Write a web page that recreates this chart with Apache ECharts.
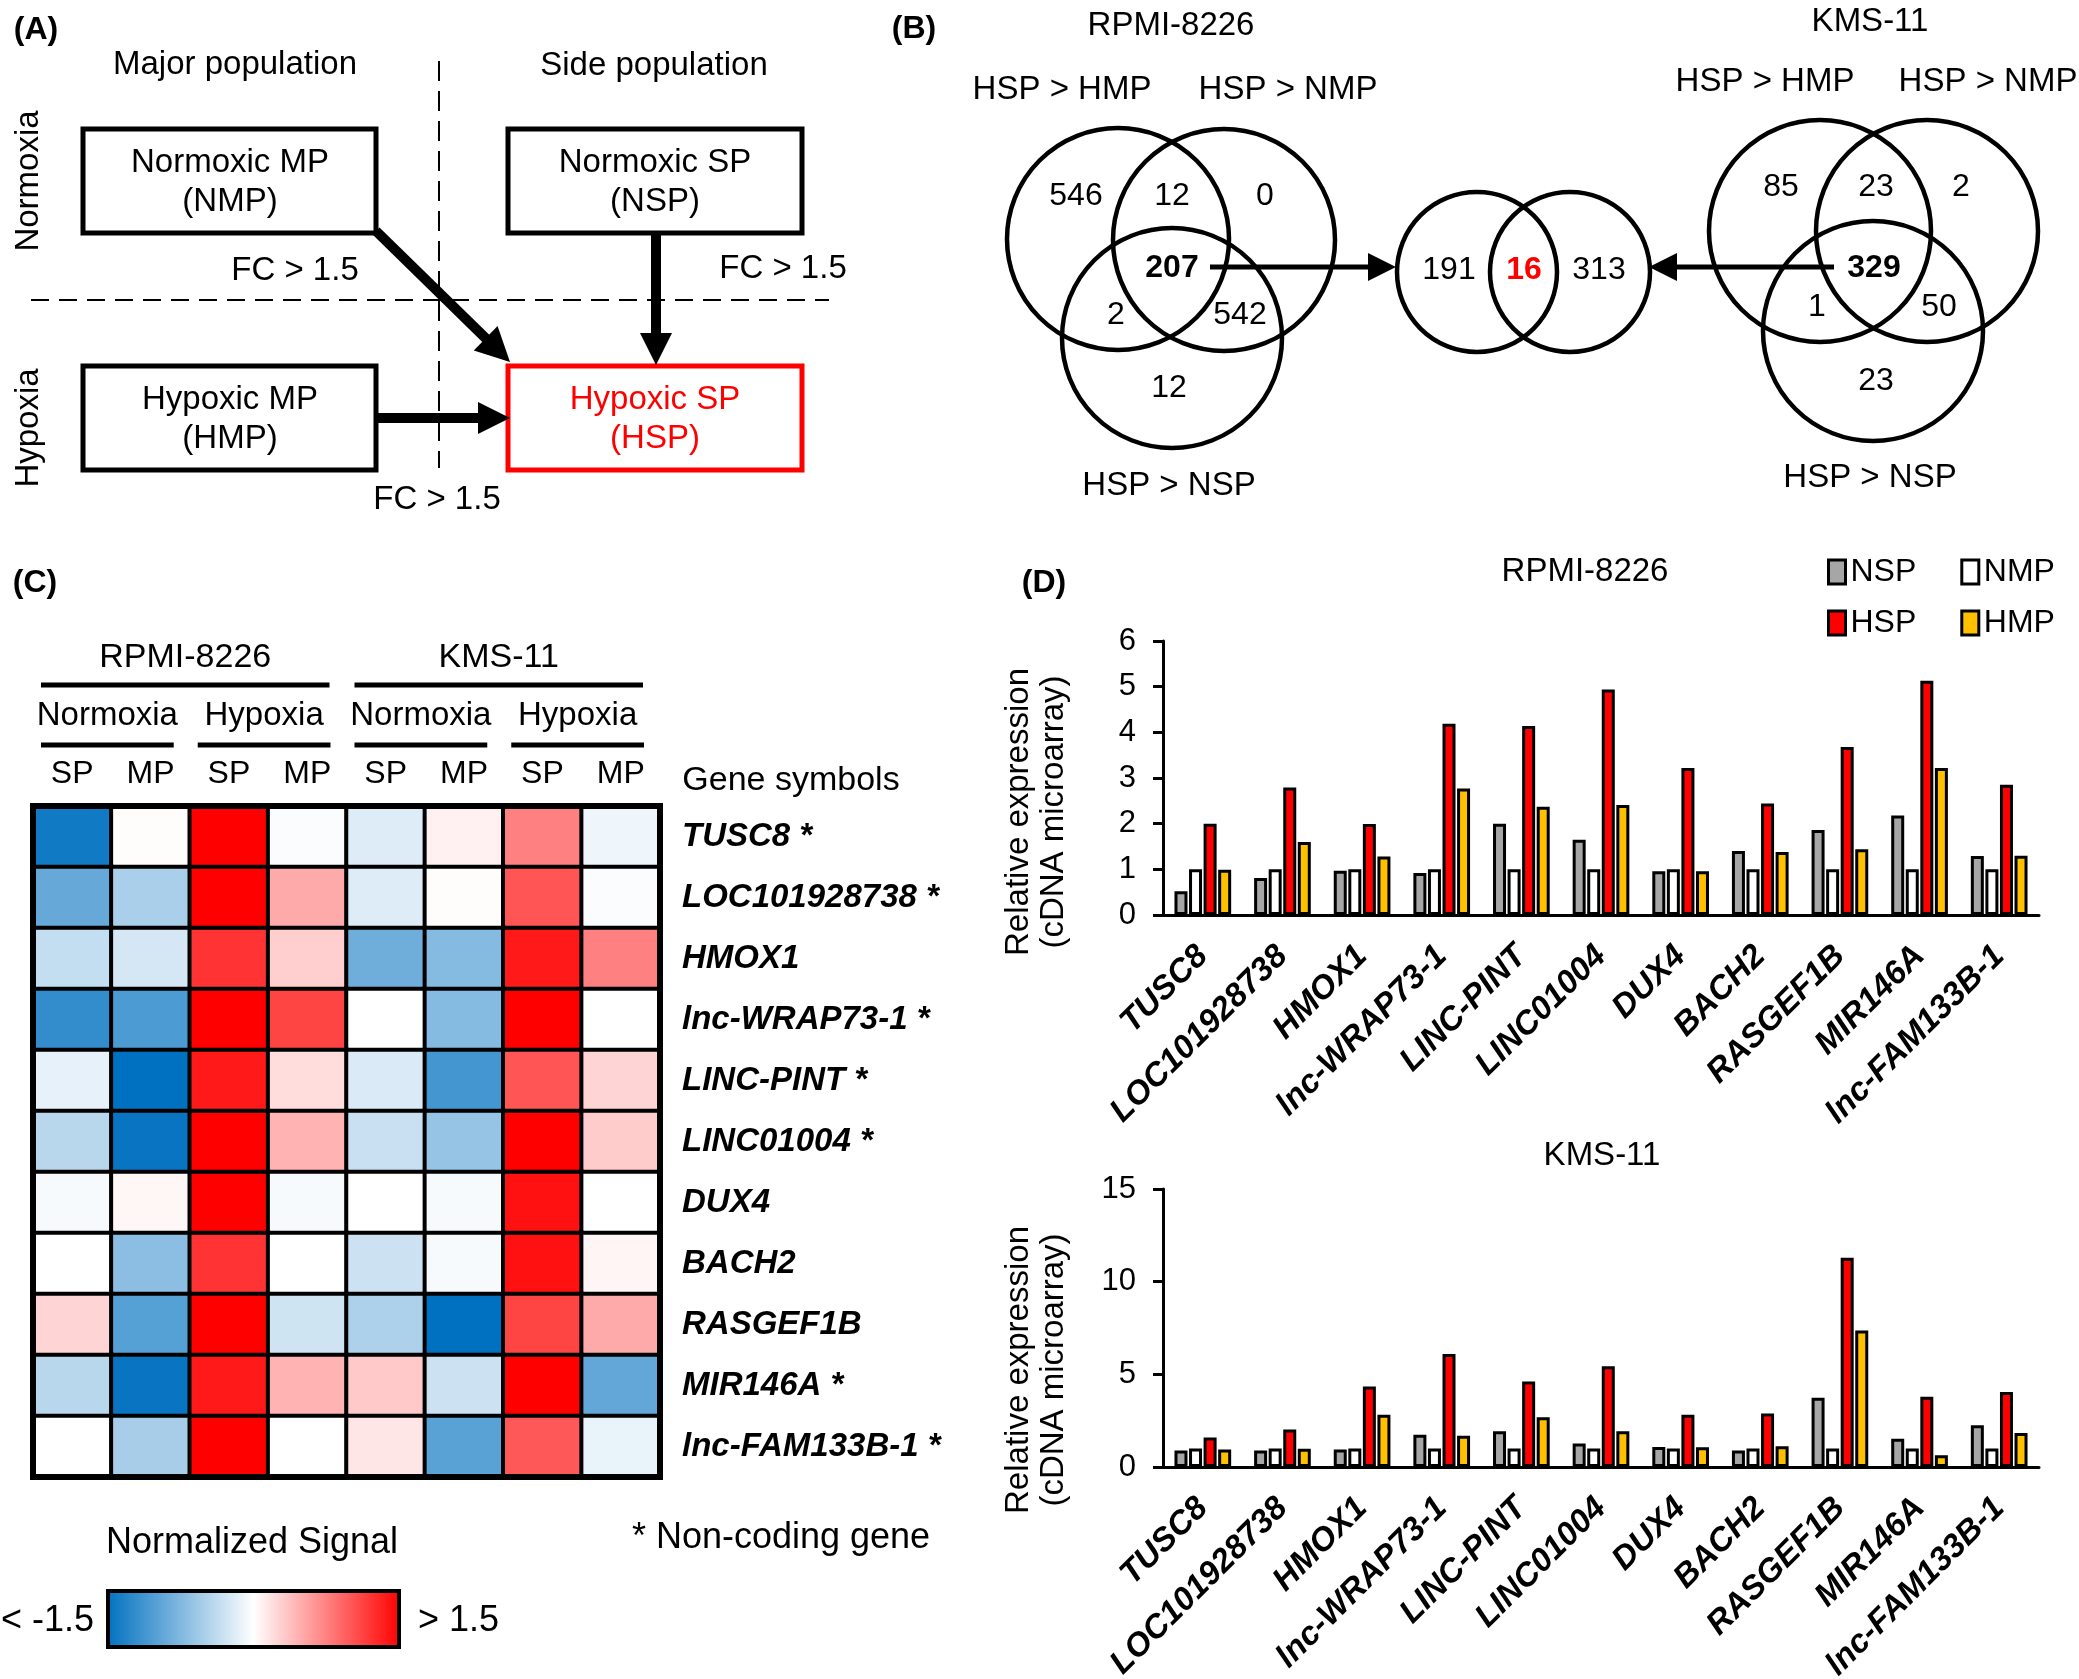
<!DOCTYPE html>
<html><head><meta charset="utf-8">
<script src="https://cdn.jsdelivr.net/npm/echarts@6/dist/echarts.min.js"></script>
<style>html,body{margin:0;padding:0;background:#fff}#c{width:2079px;height:1679px}</style>
</head><body><div id="c"></div>
<script>
// ---------- DATA ----------
const genes = ['TUSC8','LOC101928738','HMOX1','lnc-WRAP73-1','LINC-PINT','LINC01004','DUX4','BACH2','RASGEF1B','MIR146A','lnc-FAM133B-1'];
const nonCoding = [1,1,0,1,1,1,0,0,0,1,1];
const heatColumns = ['SP','MP','SP','MP','SP','MP','SP','MP'];
const heatCellLines = ['RPMI-8226','KMS-11'];
const heatConditions = ['Normoxia','Hypoxia','Normoxia','Hypoxia'];
const heatValues = [
  [-1.4, 0.02, 1.5, -0.03, -0.2, 0.08, 0.75, -0.1],
  [-0.9, -0.5, 1.5, 0.5, -0.2, 0.02, 1.0, -0.03],
  [-0.35, -0.25, 1.2, 0.28, -0.85, -0.72, 1.35, 0.75],
  [-1.2, -1.05, 1.5, 1.1, 0, -0.72, 1.5, 0],
  [-0.15, -1.5, 1.35, 0.2, -0.22, -1.1, 1.0, 0.25],
  [-0.42, -1.45, 1.5, 0.45, -0.32, -0.62, 1.5, 0.3],
  [-0.05, 0.05, 1.5, -0.05, 0, -0.05, 1.4, 0],
  [0, -0.68, 1.2, 0, -0.3, -0.05, 1.4, 0.06],
  [0.25, -1.0, 1.5, -0.28, -0.48, -1.5, 1.1, 0.5],
  [-0.42, -1.45, 1.35, 0.45, 0.32, -0.3, 1.5, -0.92],
  [0, -0.52, 1.5, 0, 0.15, -0.98, 0.98, -0.13]
];
const heatMin = -1.5, heatMax = 1.5;
const seriesNames = ['NSP','NMP','HSP','HMP'];
const rpmiNSP = [0.52, 0.81, 0.97, 0.92, 2.0, 1.65, 0.96, 1.4, 1.86, 2.18, 1.29];
const rpmiNMP = [1, 1, 1, 1, 1, 1, 1, 1, 1, 1, 1];
const rpmiHSP = [2.0, 2.79, 1.99, 4.19, 4.14, 4.94, 3.22, 2.44, 3.68, 5.13, 2.85];
const rpmiHMP = [0.99, 1.6, 1.28, 2.77, 2.37, 2.41, 0.96, 1.38, 1.44, 3.22, 1.3];
const kmsNSP = [0.89, 0.89, 0.95, 1.74, 1.93, 1.27, 1.08, 0.89, 3.73, 1.52, 2.25];
const kmsNMP = [1, 1, 1, 1, 1, 1, 1, 1, 1, 1, 1];
const kmsHSP = [1.59, 2.03, 4.34, 6.1, 4.62, 5.44, 2.82, 2.88, 11.29, 3.79, 4.05];
const kmsHMP = [0.95, 0.98, 2.82, 1.69, 2.69, 1.93, 1.06, 1.12, 7.37, 0.64, 1.84];
const rpmiAxis = {min: 0, max: 6, interval: 1};
const kmsAxis = {min: 0, max: 15, interval: 5};
const vennSets = ['HSP > HMP', 'HSP > NMP', 'HSP > NSP'];
const rpmiVenn = [546, 12, 0, 207, 2, 542, 12];
const kmsVenn = [85, 23, 2, 329, 1, 50, 23];
const sharedVenn = [191, 16, 313];

// ---------- STYLE / LAYOUT ----------
const FF = '"Liberation Sans", Arial, sans-serif';
const barColors = ['#a6a6a6', '#ffffff', '#ff0000', '#ffc000'];
const G = [];
function txt(s, x, y, o) {
  o = o || {};
  const a = o.align || 'center';
  G.push({type: 'text', x: x, y: y, rotation: o.rot || 0, z: 20,
    style: {text: s, x: 0, y: 0, fill: o.color || '#000', fontSize: o.size || 32, fontFamily: FF,
      fontWeight: o.weight || 'normal', fontStyle: o.fstyle || 'normal',
      textAlign: a, align: a, textVerticalAlign: 'middle', verticalAlign: 'middle'}});
}
function line(x1, y1, x2, y2, lw, dash) {
  G.push({type: 'line', z: 15, shape: {x1, y1, x2, y2}, style: {stroke: '#000', lineWidth: lw, lineDash: dash || null}});
}
function box(x, y, w, h, color, lw) {
  G.push({type: 'rect', z: 15, shape: {x, y, width: w, height: h}, style: {fill: 'transparent', stroke: color, lineWidth: lw}});
}
function circ(cx, cy, r) {
  G.push({type: 'circle', z: 15, shape: {cx, cy, r}, style: {fill: 'transparent', stroke: '#000', lineWidth: 4.5}});
}
function arrow(x1, y1, x2, y2, lw, hl, hw) {
  const dx = x2 - x1, dy = y2 - y1, L = Math.hypot(dx, dy), ux = dx / L, uy = dy / L;
  const bx = x2 - ux * hl, by = y2 - uy * hl, px = -uy, py = ux;
  line(x1, y1, bx + ux * 2, by + uy * 2, lw);
  G.push({type: 'polygon', z: 16, shape: {points: [[x2, y2], [bx + px * hw, by + py * hw], [bx - px * hw, by - py * hw]]}, style: {fill: '#000'}});
}

// Panel A
txt('(A)', 36, 30, {weight: 'bold'});
txt('Major population', 235, 65, {size: 33});
txt('Side population', 654, 66, {size: 33});
line(439, 61, 439, 468, 2, [20, 10]);
line(31, 300, 829, 300, 2, [18, 10]);
txt('Normoxia', 29, 181, {size: 33, rot: Math.PI / 2});
txt('Hypoxia', 29, 428, {size: 33, rot: Math.PI / 2});
box(83, 129, 293, 104, '#000', 5);
box(508, 129, 294, 104, '#000', 5);
box(83, 366, 293, 104, '#000', 5);
box(508, 366, 294, 104, '#ff0000', 5);
txt('Normoxic MP', 230, 163, {size: 33}); txt('(NMP)', 230, 202, {size: 33});
txt('Normoxic SP', 655, 163, {size: 33}); txt('(NSP)', 655, 202, {size: 33});
txt('Hypoxic MP', 230, 400, {size: 33}); txt('(HMP)', 230, 439, {size: 33});
txt('Hypoxic SP', 655, 400, {size: 33, color: '#ff0000'}); txt('(HSP)', 655, 439, {size: 33, color: '#ff0000'});
txt('FC > 1.5', 295, 271, {size: 33});
txt('FC > 1.5', 783, 269, {size: 33});
txt('FC > 1.5', 437, 500, {size: 33});
arrow(376, 231, 510, 362, 10, 34, 17);
arrow(656, 234, 656, 365, 10, 32, 16);
arrow(376, 418, 510, 418, 10, 32, 16);

// Panel B
txt('(B)', 914, 29, {weight: 'bold'});
txt('RPMI-8226', 1171, 26, {size: 33});
txt('KMS-11', 1870, 22, {size: 33});
txt(vennSets[0], 1062, 90, {size: 33}); txt(vennSets[1], 1288, 90, {size: 33}); txt(vennSets[2], 1169, 486, {size: 33});
txt(vennSets[0], 1765, 82, {size: 33}); txt(vennSets[1], 1988, 82, {size: 33}); txt(vennSets[2], 1870, 478, {size: 33});
circ(1118, 239, 111); circ(1224, 240, 111); circ(1172, 338, 110);
circ(1820, 231, 111); circ(1927, 231, 111); circ(1873, 331, 110);
circ(1477, 272, 80); circ(1570, 272, 80);
const rpmiPos = [[1076, 196], [1172, 196], [1265, 196], [1172, 268], [1116, 315], [1240, 315], [1169, 388]];
const kmsPos = [[1781, 187], [1876, 187], [1961, 187], [1874, 268], [1817, 307], [1939, 307], [1876, 381]];
rpmiVenn.forEach((v, i) => txt(String(v), rpmiPos[i][0], rpmiPos[i][1], {size: 32, weight: i === 3 ? 'bold' : 'normal'}));
kmsVenn.forEach((v, i) => txt(String(v), kmsPos[i][0], kmsPos[i][1], {size: 32, weight: i === 3 ? 'bold' : 'normal'}));
const sharedPos = [[1449, 270], [1524, 270], [1599, 270]];
sharedVenn.forEach((v, i) => txt(String(v), sharedPos[i][0], sharedPos[i][1], {size: 32, weight: i === 1 ? 'bold' : 'normal', color: i === 1 ? '#ff0000' : '#000'}));
arrow(1210, 267, 1396, 267, 5, 28, 14);
arrow(1834, 267, 1649, 267, 5, 28, 14);

// Panel C
const hg = {left: 33, top: 806, width: 627, height: 671};
const cw = hg.width / heatColumns.length;
txt('(C)', 35, 583, {weight: 'bold'});
heatCellLines.forEach((s, g) => {
  const x0 = hg.left + g * 4 * cw + 8, x1 = hg.left + (g + 1) * 4 * cw - 17;
  txt(s, (x0 + x1) / 2, 658, {size: 34});
  line(x0, 685, x1, 685, 5);
});
heatConditions.forEach((s, g) => {
  const x0 = hg.left + g * 2 * cw + 8, x1 = hg.left + (g + 1) * 2 * cw - 16;
  txt(s, (x0 + x1) / 2, 716, {size: 33});
  line(x0, 745, x1, 745, 5);
});
txt('Gene symbols', 791, 781, {size: 34});
box(hg.left, hg.top, hg.width, hg.height, '#000', 6);
txt('Normalized Signal', 252, 1543, {size: 36});
txt('* Non-coding gene', 781, 1538, {size: 36});
G.push({type: 'rect', z: 15, shape: {x: 108, y: 1591, width: 291, height: 56},
  style: {stroke: '#000', lineWidth: 4, fill: new echarts.graphic.LinearGradient(0, 0, 1, 0, [
    {offset: 0, color: '#0070c0'}, {offset: 0.5, color: '#ffffff'}, {offset: 1, color: '#ff0000'}])}});
txt('< -' + Math.abs(heatMin), 94, 1621, {size: 36, align: 'right'});
txt('> ' + heatMax, 418, 1621, {size: 36, align: 'left'});

// Panel D
txt('(D)', 1044, 583, {weight: 'bold'});
txt('RPMI-8226', 1585, 572, {size: 33});
txt('KMS-11', 1602, 1156, {size: 33});

const heatData = [];
heatValues.forEach((row, r) => row.forEach((v, c) => heatData.push([c, r, v])));

function barXAxis(gi) {
  return {type: 'category', gridIndex: gi, data: genes, boundaryGap: true,
    axisLine: {show: true, lineStyle: {color: '#000', width: 3}}, axisTick: {show: false},
    axisLabel: {interval: 0, rotate: 45, margin: 36, color: '#000', fontFamily: FF, fontSize: 33, fontWeight: 'bold', fontStyle: 'italic'},
    splitLine: {show: false}};
}
function barYAxis(gi, ax, shift) {
  return {type: 'value', gridIndex: gi, min: ax.min, max: ax.max, interval: ax.interval,
    name: 'Relative expression\n(cDNA microarray)', nameLocation: 'middle', nameGap: 92, nameRotate: 90,
    nameTextStyle: {color: '#000', fontFamily: FF, fontSize: 33, lineHeight: 35, padding: [0, shift, 0, 0]},
    axisLine: {show: true, lineStyle: {color: '#000', width: 3}},
    axisTick: {show: true, inside: false, length: 10, lineStyle: {color: '#000', width: 3}},
    axisLabel: {color: '#000', fontFamily: FF, fontSize: 31, margin: 27},
    splitLine: {show: false}};
}
function bars(gi, arrs) {
  return arrs.map((d, i) => ({type: 'bar', name: seriesNames[i], xAxisIndex: gi, yAxisIndex: gi, data: d,
    barWidth: 13, barGap: '12%', itemStyle: {color: barColors[i], borderColor: '#000', borderWidth: 3},
    emphasis: {disabled: true}, animation: false}));
}
const legendCommon = {orient: 'horizontal', itemWidth: 17, itemHeight: 24, itemGap: 44, padding: 0, icon: 'rect',
  selectedMode: false, textStyle: {color: '#000', fontFamily: FF, fontSize: 32},
  itemStyle: {borderColor: '#000', borderWidth: 3}};

const option = {
  backgroundColor: '#ffffff',
  animation: false,
  textStyle: {fontFamily: FF},
  grid: [
    {left: hg.left, top: hg.top, width: hg.width, height: hg.height, outerBoundsMode: 'none'},
    {left: 1163, top: 641, width: 876, height: 274, outerBoundsMode: 'none'},
    {left: 1163, top: 1189, width: 876, height: 278, outerBoundsMode: 'none'}
  ],
  xAxis: [
    {type: 'category', gridIndex: 0, position: 'top', data: heatColumns, axisLine: {show: false}, axisTick: {show: false},
      axisLabel: {interval: 0, margin: 16, color: '#000', fontFamily: FF, fontSize: 32}, splitLine: {show: false}},
    barXAxis(1), barXAxis(2)
  ],
  yAxis: [
    {type: 'category', gridIndex: 0, position: 'right', inverse: true, data: genes, axisLine: {show: false}, axisTick: {show: false},
      axisLabel: {interval: 0, margin: 22, align: 'left', color: '#000', fontFamily: FF, fontSize: 33, fontWeight: 'bold', fontStyle: 'italic',
        formatter: (v, i) => v + (nonCoding[i] ? ' *' : '')}, splitLine: {show: false}},
    barYAxis(1, rpmiAxis, 68), barYAxis(2, kmsAxis, 84)
  ],
  visualMap: {type: 'continuous', show: false, min: heatMin, max: heatMax, seriesIndex: 0, dimension: 2,
    inRange: {color: ['#0070c0', '#ffffff', '#ff0000']}},
  legend: [
    Object.assign({}, legendCommon, {data: ['NSP', 'NMP'], left: 1827, top: 556}),
    Object.assign({}, legendCommon, {data: ['HSP', 'HMP'], left: 1827, top: 607})
  ],
  series: [
    {type: 'heatmap', xAxisIndex: 0, yAxisIndex: 0, data: heatData,
      itemStyle: {borderColor: '#000', borderWidth: 4}, emphasis: {disabled: true}, label: {show: false}}
  ].concat(bars(1, [rpmiNSP, rpmiNMP, rpmiHSP, rpmiHMP])).concat(bars(2, [kmsNSP, kmsNMP, kmsHSP, kmsHMP])),
  graphic: {elements: G}
};
const chart = echarts.init(document.getElementById('c'), null, {renderer: 'canvas'});
chart.setOption(option);
</script></body></html>
